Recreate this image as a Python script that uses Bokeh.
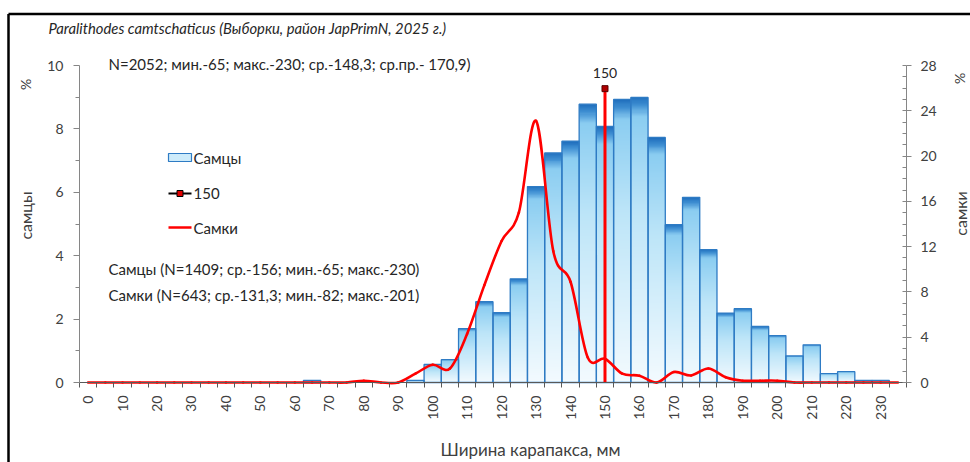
import math
import numpy as np
from bokeh.plotting import figure
from bokeh.models import Range1d, LinearAxis, FixedTicker, Label
from bokeh.embed import file_html
from bokeh.resources import INLINE

# ---------------- data ----------------
categories = list(range(0, 240, 5))  # carapace width classes, mm (0..235)
males = [0, 0, 0, 0, 0, 0, 0, 0, 0, 0, 0, 0, 0,          # 0..60
         0.07, 0, 0, 0, 0, 0, 0.07,                        # 65..95
         0.57, 0.72, 1.70, 2.55, 2.20, 3.27, 6.18, 7.24,   # 100..135
         7.61, 8.78, 8.08, 8.93, 8.99, 7.73, 4.98, 5.84,   # 140..175
         4.19, 2.19, 2.33, 1.77, 1.48, 0.84, 1.19, 0.28,   # 180..215
         0.34, 0.07, 0.07, 0]                              # 220..235
females = [0, 0, 0, 0, 0, 0, 0, 0, 0, 0, 0, 0, 0, 0, 0, 0,  # 0..75
           0.16, 0, 0, 0.78,                                 # 80..95
           1.56, 1.24, 4.30, 8.60, 12.5, 15.0, 23.1, 11.6,   # 100..135
           8.9, 2.2, 2.1, 0.78, 0.6, 0.0, 0.93, 0.62,        # 140..175
           1.24, 0.47, 0.16, 0.16, 0.16,                     # 180..200
           0, 0, 0, 0, 0, 0, 0]                              # 205..235
ref_size = 150
ref_level = 9.27
x_tick_labels = list(range(0, 231, 10))
left_ticks = [0, 2, 4, 6, 8, 10]
right_ticks = [0, 4, 8, 12, 16, 20, 24, 28]

title_text = "Paralithodes camtschaticus (Выборки, район JapPrimN, 2025 г.)"
total_text = "N=2052; мин.-65; макс.-230; ср.-148,3; ср.пр.- 170,9)"
male_text = "Самцы (N=1409; ср.-156; мин.-65; макс.-230)"
female_text = "Самки (N=643; ср.-131,3; мин.-82; макс.-201)"

FONT = "Lato"

# ---------------- geometry (page px) ----------------
W, H = 970, 462
FL, FR, FT, FB = 79, 906, 65, 382       # plotting area of the chart
XMIN, XMAX = -2.5, 237.5
YMAX_L, YMAX_R = 10.0, 28.0


def X(px):
    return XMIN + (px - FL) * (XMAX - XMIN) / (FR - FL)


def Y(py):
    return (FB - py) * YMAX_L / (FB - FT)


p = figure(width=W, height=H, output_backend="svg", toolbar_location=None,
           x_range=Range1d(X(0), X(W)), y_range=Range1d(Y(H), Y(0)),
           min_border=0, min_border_left=0, min_border_right=0,
           min_border_top=0, min_border_bottom=0)
p.extra_y_ranges = {"right": Range1d(Y(H) * YMAX_R / YMAX_L, Y(0) * YMAX_R / YMAX_L)}
p.xgrid.visible = False
p.ygrid.visible = False
p.outline_line_color = None
p.background_fill_color = "white"
p.border_fill_color = "white"

# outer frame lines of the original picture (top and left edges)
p.line(x=[X(8), X(W + 5)], y=[Y(13.5), Y(13.5)], line_color="#000000", line_width=2.5)
p.line(x=[X(8), X(8)], y=[Y(13.5), Y(H + 5)], line_color="#000000", line_width=2.5)

# ---------------- gradient bars (one stretched gradient image per bar) ----------------
stops = [(0.0, (0x1d, 0x6c, 0xbb)), (0.03, (0x3f, 0x8f, 0xd3)), (0.07, (0x8b, 0xcd, 0xf1)),
         (0.4, (0xbd, 0xe5, 0xf8)), (1.0, (0xf3, 0xfa, 0xfe))]


def grad(t):
    for (t0, c0), (t1, c1) in zip(stops[:-1], stops[1:]):
        if t <= t1:
            f = (t - t0) / (t1 - t0)
            return [round(a + (b - a) * f) for a, b in zip(c0, c1)]
    return list(stops[-1][1])


NR = 256
col = np.zeros((NR, 1, 4), dtype=np.uint8)
for i in range(NR):                       # row 0 = bottom of the bar
    r, g, b = grad(1 - (i + 0.5) / NR)
    col[i, 0] = (r, g, b, 255)
grad_img = col.view(dtype=np.uint32).reshape((NR, 1))

mx = [c for c, v in zip(categories, males) if v > 0]
mv = [v for v in males if v > 0]
p.image_rgba(image=[grad_img] * len(mx), x=[c - 2.5 for c in mx], y=[0] * len(mx),
             dw=[5] * len(mx), dh=mv)
p.vbar(x=mx, top=mv, width=5, fill_color=None, line_color="#2e7bc4", line_width=1.3)

# ---------------- smoothed female curve (Excel-like) ----------------
P = np.array(categories, float)
Q = np.array(females, float)
n = len(P)
Px = np.concatenate([[P[0]], P, [P[-1]]])
Py = np.concatenate([[Q[0]], Q, [Q[-1]]])
x0, y0 = Px[1:n], Py[1:n]
x1, y1 = Px[2:n + 1], Py[2:n + 1]
cx0 = x0 + (Px[2:n + 1] - Px[0:n - 1]) / 6
cy0 = y0 + (Py[2:n + 1] - Py[0:n - 1]) / 6
cx1 = x1 - (Px[3:n + 2] - Px[1:n]) / 6
cy1 = y1 - (Py[3:n + 2] - Py[1:n]) / 6
p.bezier(x0=x0, y0=y0, x1=x1, y1=y1, cx0=cx0, cy0=cy0, cx1=cx1, cy1=cy1,
         line_color="#ff0000", line_width=2.6, line_cap="round", y_range_name="right")

# ---------------- 150 mm reference line ----------------
p.line(x=[ref_size, ref_size], y=[0, ref_level], line_color="#ff0000", line_width=3)
p.scatter(x=[ref_size], y=[ref_level], marker="square", size=6,
          fill_color="#b00000", line_color="#5a0000", line_width=1)

# ---------------- axes ----------------
AX_COL = "#868686"
LBL_COL = "#404040"
xa = p.xaxis[0]
xa.fixed_location = 0
xa.bounds = (XMIN, XMAX)
xa.ticker = FixedTicker(ticks=x_tick_labels,
                        minor_ticks=[c - 2.5 for c in categories] + [categories[-1] + 2.5])
xa.major_tick_line_color = None
xa.major_tick_out = 5
xa.major_tick_in = 0
xa.minor_tick_out = 5
xa.minor_tick_in = 0
xa.minor_tick_line_color = "#595959"
xa.axis_line_color = "#595959"
xa.major_label_orientation = math.pi / 2
xa.major_label_standoff = 8
xa.major_label_text_font = FONT
xa.major_label_text_font_size = "14px"
xa.major_label_text_color = LBL_COL

ya = p.yaxis[0]
ya.fixed_location = XMIN
ya.bounds = (0, YMAX_L)
ya.ticker = FixedTicker(ticks=left_ticks, minor_ticks=[1, 3, 5, 7, 9])
ya.major_tick_out = 6
ya.major_tick_in = 0
ya.minor_tick_out = 4
ya.minor_tick_in = 0
ya.axis_line_color = AX_COL
ya.major_tick_line_color = AX_COL
ya.minor_tick_line_color = AX_COL
ya.major_label_standoff = 10
ya.major_label_text_font = FONT
ya.major_label_text_font_size = "14px"
ya.major_label_text_color = LBL_COL

ra = LinearAxis(y_range_name="right", fixed_location=XMAX, bounds=(0, YMAX_R),
                ticker=FixedTicker(ticks=right_ticks, minor_ticks=list(range(0, 29))))
ra.major_tick_out = 5
ra.major_tick_in = 0
ra.minor_tick_out = 0
ra.minor_tick_in = 4
ra.axis_line_color = AX_COL
ra.major_tick_line_color = AX_COL
ra.minor_tick_line_color = AX_COL
ra.major_label_standoff = 9
ra.major_label_text_font = FONT
ra.major_label_text_font_size = "14px"
ra.major_label_text_color = LBL_COL
p.add_layout(ra, "right")

# ---------------- texts ----------------


def lab(px, py, text, size="15px", align="left", angle=0.0, style="normal", color="#262626", xdata=None):
    p.add_layout(Label(x=X(px) if xdata is None else xdata, y=Y(py), text=text,
                       text_font=FONT, text_font_size=size, text_font_style=style,
                       text_color=color, text_align=align, text_baseline="middle", angle=angle))


lab(48, 27, title_text, size="14.8px", style="italic")
lab(108, 63, total_text, size="15px")
lab(25, 84, "%", size="14px", align="center", angle=math.pi / 2, color=LBL_COL)
lab(25, 215, "самцы", size="16px", align="center", angle=math.pi / 2, color=LBL_COL)
lab(959, 78, "%", size="14px", align="center", angle=math.pi / 2, color=LBL_COL)
lab(960, 213, "самки", size="16px", align="center", angle=math.pi / 2, color=LBL_COL)
lab(530, 449, "Ширина карапакса, мм", size="17px", align="center", color=LBL_COL)
lab(0, 72, str(ref_size), size="14px", align="center", xdata=ref_size)
lab(108, 268, male_text, size="15px")
lab(108, 294, female_text, size="15px")

# ---------------- manual legend ----------------
LX0, LX1 = 168, 191
p.rect(x=[(X(LX0) + X(LX1)) / 2], y=[Y(157)], width=X(LX1) - X(LX0), height=Y(153) - Y(161),
       fill_color="#cdebfa", line_color="#2e7bc4", line_width=1.2)
p.line(x=[X(LX0), X(LX1)], y=[Y(193), Y(193)], line_color="#000000", line_width=2)
p.scatter(x=[(X(LX0) + X(LX1)) / 2], y=[Y(193)], marker="square", size=6,
          fill_color="#e00000", line_color="#000000", line_width=1)
p.line(x=[X(LX0), X(LX1)], y=[Y(227), Y(227)], line_color="#ff0000", line_width=2.5)
lab(193, 157, "Самцы", size="15px")
lab(193, 193, str(ref_size), size="15px")
lab(193, 227, "Самки", size="15px")

open("out.html", "w").write(file_html(p, INLINE))
